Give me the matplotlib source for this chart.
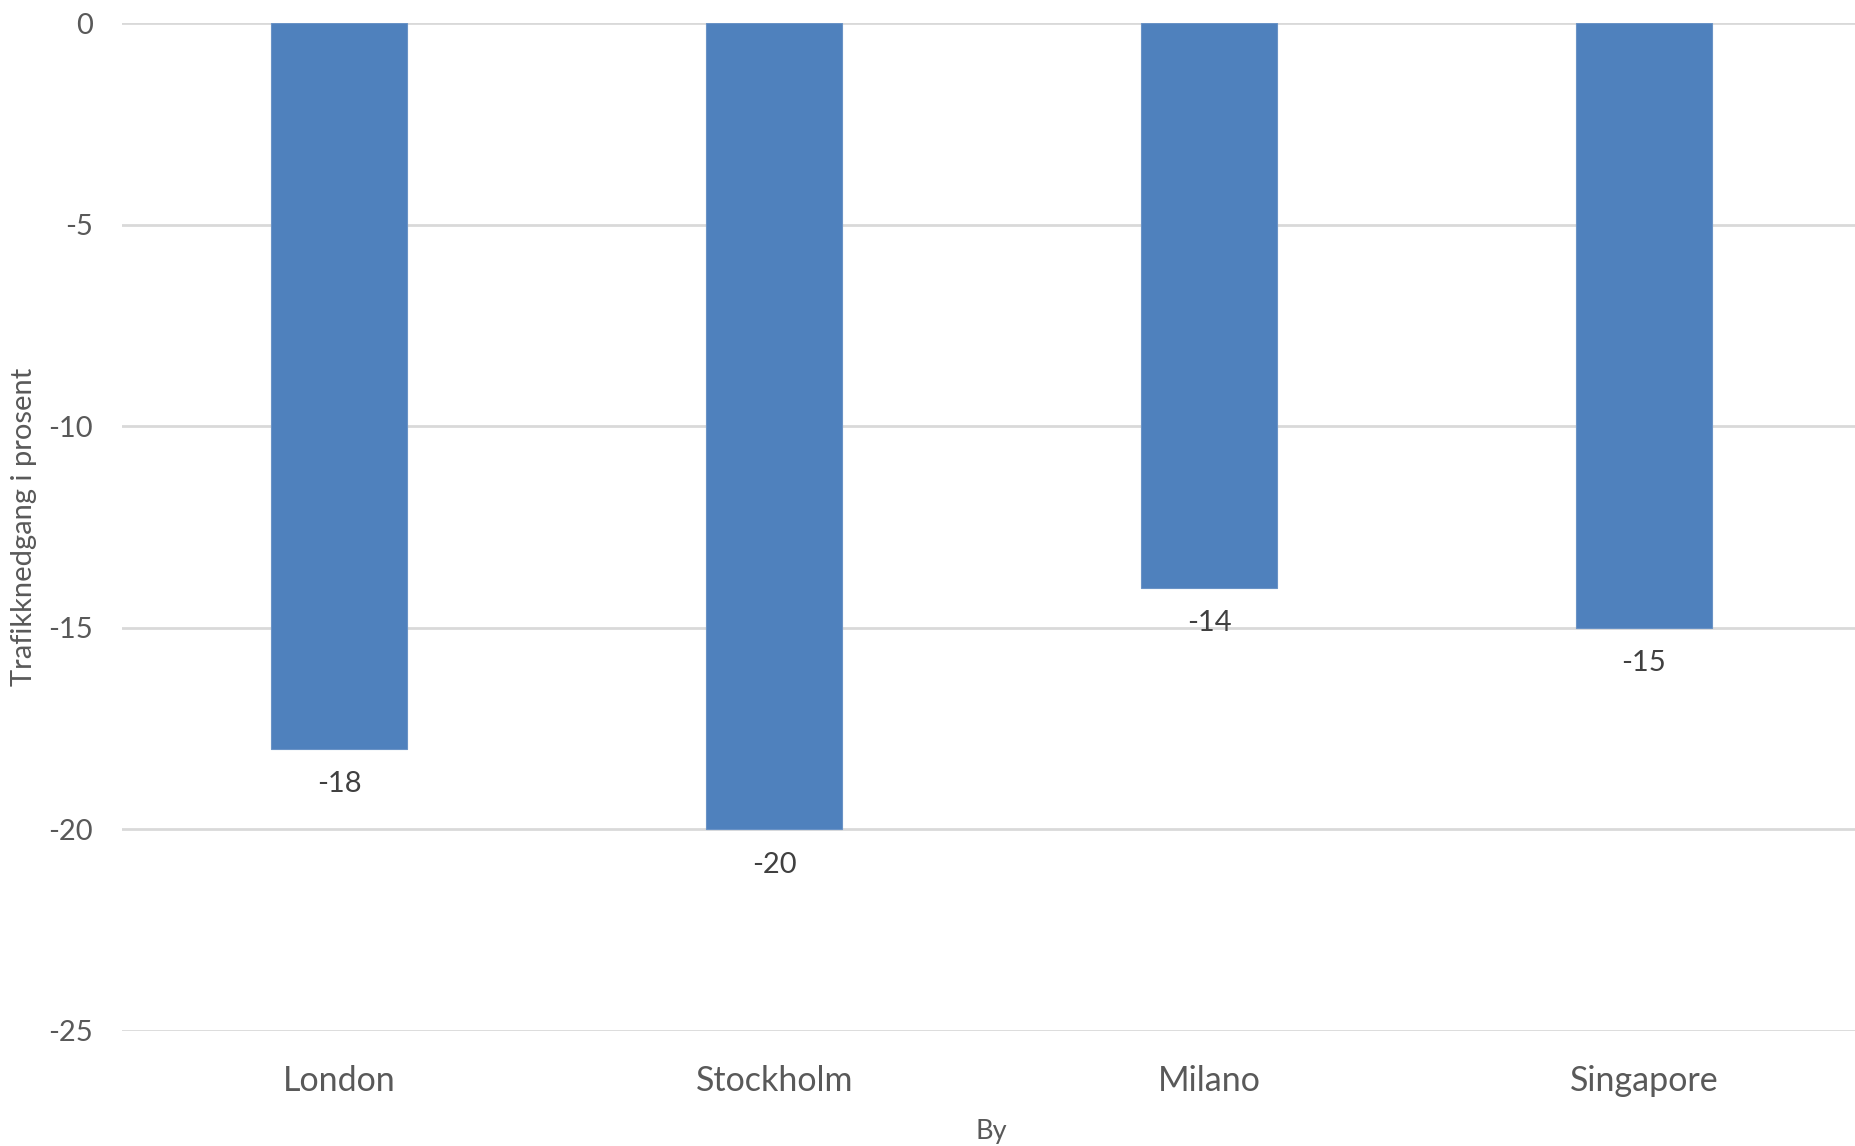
import matplotlib
matplotlib.use("Agg")
from matplotlib import pyplot as plt

# traffic drop per city, percent
cities = ["London", "Stockholm", "Milano", "Singapore"]
drop = [-18, -20, -14, -15]
yticks = [0, -5, -10, -15, -20, -25]

plt.rcParams['font.family'] = ['Lato', 'DejaVu Sans']
plt.rcParams['axes.unicode_minus'] = False

fig = plt.figure(figsize=(18.55, 11.46), dpi=100)
# axes runs a little past the right edge, like the original export
ax = fig.add_axes([0.0658, 0.1006, 0.9375, 0.8789])

x = range(len(cities))
ax.bar(x, drop, width=0.313, color='#4F81BD', edgecolor='#6A93C6', linewidth=0.8, zorder=3)

for i, v in enumerate(drop):
  ax.annotate(str(v), (i, v), xytext=(0, -25.5), textcoords='offset points',
              ha='center', va='center', fontsize=21, color='#404040')

ax.set_xlim(-0.5, 3.5)
ax.set_ylim(-25, 0)
ax.set_yticks(yticks)
ax.set_xticks(list(x))
ax.set_xticklabels(cities)
ax.grid(axis='y', color='#D9D9D9', linewidth=2, zorder=0)
ax.set_axisbelow(True)
for s in ax.spines.values():
  s.set_visible(False)
ax.tick_params(axis='both', length=0, labelcolor='#595959')
ax.tick_params(axis='y', pad=21, labelsize=21)
ax.tick_params(axis='x', pad=24.5, labelsize=24.5)

ax.set_xlabel("By", fontsize=19.5, color='#595959', va='center')
ax.set_ylabel("Trafikknedgang i prosent", fontsize=21, color='#595959', va='center')
ax.xaxis.set_label_coords(0.5, -0.1005)
ax.yaxis.set_label_coords(-0.0565, 0.5)

fig.savefig("out.png", dpi=100, facecolor='white')
